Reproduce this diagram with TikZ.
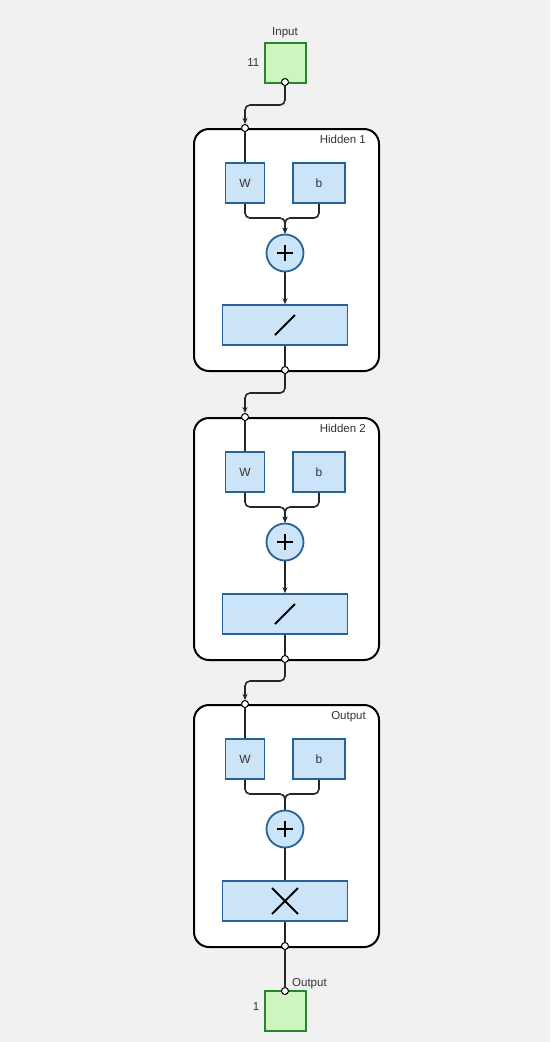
\documentclass[tikz,border=0pt]{standalone}
\usepackage{fontspec}
\setmainfont{Liberation Sans}
\usetikzlibrary{arrows.meta,calc}
\definecolor{bg}{RGB}{241,241,241}
\definecolor{blfill}{RGB}{204,228,248}
\definecolor{bldraw}{RGB}{40,98,150}
\definecolor{grfill}{RGB}{206,245,192}
\definecolor{grdraw}{RGB}{36,135,46}
\tikzset{
  layerbox/.style={draw=black, line width=2pt, rounded corners=15pt, fill=white, minimum width=185pt, minimum height=242pt, inner sep=0pt},
  bluebox/.style={draw=bldraw, fill=blfill, line width=1.5pt, minimum height=40pt, inner sep=0pt, font=\fontsize{12}{14}\selectfont, text=black!80},
  sumnode/.style={circle, draw=bldraw, fill=blfill, line width=1.8pt, minimum size=37pt, inner sep=0pt},
  iobox/.style={draw=grdraw, fill=grfill, line width=2pt, minimum width=41pt, minimum height=40pt, inner sep=0pt},
  port/.style={circle, draw=black, fill=white, line width=1pt, minimum size=7pt, inner sep=0pt},
  wire/.style={draw=black!85, line width=1.6pt, rounded corners=5pt},
  arr/.style={-{Stealth[length=6pt,width=5pt]}},
  symline/.style={draw=black, line width=1.8pt},
  lbl/.style={font=\fontsize{11.5}{13}\selectfont, text=black!80, inner sep=0pt}
}
\newcommand\layerblk[4]{%
  \node[layerbox, anchor=north west] (#1) at (193,#2) {};
  \node[lbl, anchor=base east] at (366,#2+15) {#3};
  \node[port] (#1in) at (245,#2) {};
  \node[port] (#1out) at (285,#2+242) {};
  \node[bluebox, minimum width=39pt] (#1W) at (245,#2+55) {W};
  \node[bluebox, minimum width=52pt] (#1b) at (319,#2+55) {b};
  \node[sumnode] (#1p) at (285,#2+125) {};
  \node[bluebox, minimum width=125pt] (#1r) at (285,#2+197) {};
  \coordinate (#1m) at (285,#2+90);
  \draw[wire] (#1in) -- (#1W.north);
  \draw[wire,#4] (#1W.south) |- (#1m) -- (#1p.north);
  \draw[wire,#4] (#1b.south) |- (#1m) -- (#1p.north);
  \draw[wire,#4] (#1p.south) -- (#1r.north);
  \draw[wire] (#1r.south) -- (#1out);
  \draw[symline] ($(#1p.center)+(-8,0)$) -- ($(#1p.center)+(8,0)$);
  \draw[symline] ($(#1p.center)+(0,-8)$) -- ($(#1p.center)+(0,8)$);
}
\begin{document}
\begin{tikzpicture}[x=1pt,y=-1pt]
\fill[bg] (0,0) rectangle (550,1042);
\useasboundingbox (0,0) rectangle (550,1042);
% input
\node[iobox] (inbox) at (285,63) {};
\node[lbl, anchor=south] at ($(inbox.north)+(0,-4)$) {Input};
\node[lbl, anchor=east] at ($(inbox.west)+(-4,0)$) {11};
\node[port] (inport) at (285,82) {};
% layers
\layerblk{ha}{128}{Hidden 1}{arr}
\layerblk{hb}{417}{Hidden 2}{arr}
\layerblk{hc}{704}{Output}{}
\draw[symline] ($(har.center)+(-10,10)$) -- ($(har.center)+(10,-10)$);
\draw[symline] ($(hbr.center)+(-10,10)$) -- ($(hbr.center)+(10,-10)$);
\draw[symline] ($(hcr.center)+(-13,-13)$) -- ($(hcr.center)+(13,13)$);
\draw[symline] ($(hcr.center)+(-13,13)$) -- ($(hcr.center)+(13,-13)$);
% connectors
\coordinate (c1) at (285,105);
\coordinate (c1b) at (245,105);
\draw[wire,arr] (inport) -- (c1) -- (c1b) -- (hain);
\coordinate (c2) at (285,393);
\coordinate (c2b) at (245,393);
\draw[wire,arr] (haout) -- (c2) -- (c2b) -- (hbin);
\coordinate (c3) at (285,681);
\coordinate (c3b) at (245,681);
\draw[wire,arr] (hbout) -- (c3) -- (c3b) -- (hcin);
% output
\node[iobox] (outbox) at (285,1011) {};
\node[port] (outport) at (285,991) {};
\draw[wire] (hcout) -- (outport);
\node[lbl, anchor=base west] at (292,986) {Output};
\node[lbl, anchor=east] at ($(outbox.west)+(-4,-4)$) {1};
\end{tikzpicture}
\end{document}
